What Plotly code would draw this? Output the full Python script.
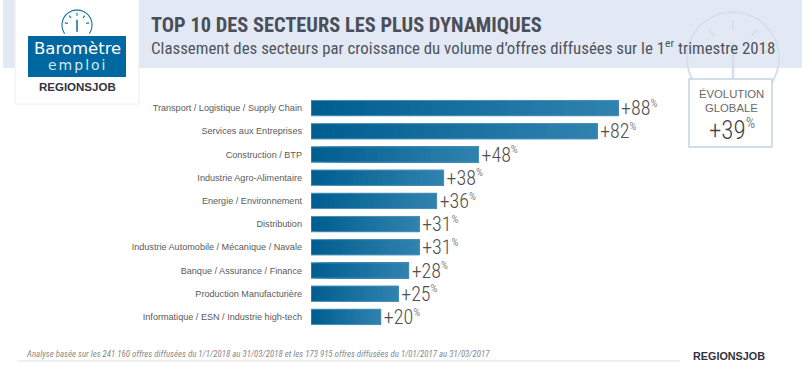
import math
import plotly.graph_objects as go

W, H = 811, 369

sectors = [
    "Transport / Logistique / Supply Chain",
    "Services aux Entreprises",
    "Construction / BTP",
    "Industrie Agro-Alimentaire",
    "Energie / Environnement",
    "Distribution",
    "Industrie Automobile / Mécanique / Navale",
    "Banque / Assurance / Finance",
    "Production Manufacturière",
    "Informatique / ESN / Industrie high-tech",
]
growth = [88, 82, 48, 38, 36, 31, 31, 28, 25, 20]
global_growth = 39

NARROW = "Roboto Condensed"
SANS = "Liberation Sans"
DARK = "#4f4f4f"
BLUE_L = (0, 94, 144)
BLUE_R = (48, 130, 174)
N_STEPS = 28


def px(x):
    return x / W


def py(y):
    return 1 - y / H


def pct(v, size=20, sup=11):
    return (f'<span style="font-size:{size}px;font-weight:300">+{v}</span>'
            f'<sup><span style="font-size:{sup}px;color:#8a8a8a">%</span></sup>')


fig = go.Figure()

# gradient: each bar is painted as overlapping layers of its own length
for k in range(N_STEPS):
    t = k / (N_STEPS - 1)
    col = "rgb(%d,%d,%d)" % tuple(round(a + (b - a) * t) for a, b in zip(BLUE_L, BLUE_R))
    fig.add_trace(go.Bar(
        y=sectors, x=[v * (N_STEPS - k) / N_STEPS for v in growth],
        base=[v * k / N_STEPS for v in growth],
        orientation="h", width=0.66, marker=dict(color=col, line=dict(width=0)),
        hoverinfo="skip", showlegend=False,
    ))

fig.add_trace(go.Bar(
    y=sectors, x=growth, orientation="h", width=0.66,
    marker=dict(color="rgba(0,0,0,0)", line=dict(color="#4a93ba", width=1)),
    text=[pct(v) for v in growth], textposition="outside", textangle=0,
    constraintext="none", cliponaxis=False,
    textfont=dict(family=NARROW, size=20, color=DARK),
    showlegend=False,
))

shapes = []
annots = []


def rect(x0, y0, x1, y1, fill, line=None, lw=0, layer="below"):
    shapes.append(dict(type="rect", xref="paper", yref="paper", x0=px(x0), x1=px(x1),
                       y0=py(y0), y1=py(y1), fillcolor=fill, layer=layer,
                       line=dict(color=line or fill, width=lw)))


def poly(points, color, lw, layer="below"):
    d = "M " + " L ".join(f"{px(x):.5f},{py(y):.5f}" for x, y in points)
    shapes.append(dict(type="path", xref="paper", yref="paper", path=d, layer=layer,
                       line=dict(color=color, width=lw)))


def arc(cx, cy, r, a0, a1, color, lw, layer="below"):
    pts = []
    for i in range(41):
        a = math.radians(a0 + (a1 - a0) * i / 40)
        pts.append((cx + r * math.cos(a), cy - r * math.sin(a)))
    poly(pts, color, lw, layer)


def gauge(cx, cy, r, color, lw, layer="below"):
    arc(cx, cy, r, -35, 215, color, lw, layer)
    for a in (170, 130, 90, 50, 10):
        c, s = math.cos(math.radians(a)), math.sin(math.radians(a))
        poly([(cx + .62 * r * c, cy - .62 * r * s), (cx + .82 * r * c, cy - .82 * r * s)],
             color, lw, layer)
    poly([(cx, cy + .45 * r), (cx, cy - .35 * r)], color, lw * 1.4, layer)


def text(x, y, s, size, color=DARK, family=SANS, anchor="left", **kw):
    annots.append(dict(xref="paper", yref="paper", x=px(x), y=py(y), text=s, showarrow=False,
                       xanchor=anchor, yanchor="middle", align=anchor,
                       font=dict(family=family, size=size, color=color),
                       borderpad=0, borderwidth=0, **kw))


# header band and watermark
rect(3, 0, 802, 68, "#e3e9f4")
gauge(733, 58, 46, "#d6dfec", 2)

# logo
rect(15, -2, 139, 104, "#ffffff", "#eceef2", 1)
gauge(77, 25, 15, "#14709f", 1.1)
rect(28, 36, 126, 77, "#0068a0")
text(77, 48, "Baromètre", 16.5, "#ffffff", "DejaVu Sans", "center")
text(77, 65, '<span style="letter-spacing:2px">emploi</span>', 14, "#d5e6f0", "DejaVu Sans", "center")
text(77, 87, "<b>REGIONSJOB</b>", 11.5, "#33333b", SANS, "center")

# titles
text(151, 25, "<b>TOP 10 DES SECTEURS LES PLUS DYNAMIQUES</b>", 20.4, "#4a4f59", NARROW)
text(151, 47, "Classement des secteurs par croissance du volume d’offres diffusées sur le "
              "1<sup>er</sup> trimestre 2018", 16.85, "#4f545c", NARROW)

# global box
rect(689, 79, 772, 147, "#ffffff", "#c5d3e3", 1.5)
text(731, 94, "ÉVOLUTION", 11.3, "#6a6a6a", SANS, "center")
text(731, 108, "GLOBALE", 11.3, "#6a6a6a", SANS, "center")
text(732, 129, pct(global_growth, 25, 15), 25, "#454545", NARROW, "center")

# footer
text(26, 354, "<i>Analyse basée sur les 241 160 offres diffusées du 1/1/2018 au 31/03/2018 et les "
              "173 915 offres diffusées du 1/01/2017 au 31/03/2017</i>", 8.85, "#8a8a8a", NARROW)
rect(17, 360.5, 680, 361.5, "#e2e2e2")
text(729, 356, "<b>REGIONSJOB</b>", 10.8, "#33333b", SANS, "center")

fig.update_layout(
    width=W, height=H, margin=dict(l=0, r=0, t=0, b=0), autosize=False,
    paper_bgcolor="white", plot_bgcolor="rgba(0,0,0,0)",
    barmode="overlay", bargap=0.34, showlegend=False,
    shapes=shapes, annotations=annots,
    xaxis=dict(domain=[px(311), px(660)], range=[0, 100], visible=False, fixedrange=True),
    yaxis=dict(domain=[py(328.5), py(96.5)], autorange="reversed", type="category",
               categoryorder="array", categoryarray=sectors,
               showline=False, showgrid=False, zeroline=False, ticks="",
               ticklabelstandoff=8,
               tickfont=dict(family=SANS, size=9.1, color="#5a5a5a"), fixedrange=True),
)

fig.write_html("out.html", config={"displayModeBar": False},
               post_script="document.body.style.margin='0';")
